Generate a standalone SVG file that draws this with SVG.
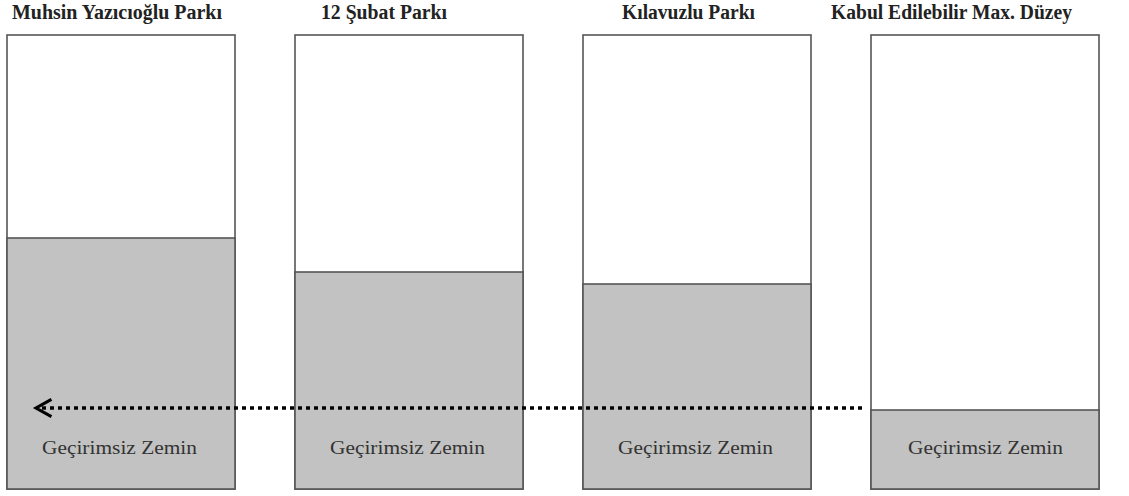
<svg xmlns="http://www.w3.org/2000/svg" width="1129" height="496" viewBox="0 0 1129 496">
<style>
.title{font-family:"Liberation Serif","Times New Roman",serif;font-weight:bold;font-size:20px;fill:#222}
.lbl{font-family:"Liberation Serif","Times New Roman",serif;font-size:19px;fill:#333}
.box{fill:#fff;stroke:#555;stroke-width:1.6}
.fill{fill:#c2c2c2;stroke:#555;stroke-width:1.6}
</style>
<defs>
<marker id="chev" markerWidth="20" markerHeight="22" refX="0" refY="0" orient="auto" markerUnits="userSpaceOnUse" viewBox="-20 -11 22 22" overflow="visible">
<path d="M-17,-9.5 L0,0 L-17,9.5" fill="none" stroke="#000" stroke-width="3.4"/>
</marker>
</defs>
<g id="node-muhsin">
<rect class="box" x="7" y="35" width="228" height="454"/>
<rect class="fill" x="7" y="238" width="228" height="251"/>
<text class="title" x="12" y="19" textLength="210" lengthAdjust="spacingAndGlyphs">Muhsin Yazıcıoğlu Parkı</text>
<text class="lbl" x="42" y="454" textLength="155" lengthAdjust="spacingAndGlyphs">Geçirimsiz Zemin</text>
</g>
<g id="node-12subat">
<rect class="box" x="295" y="35" width="228" height="454"/>
<rect class="fill" x="295" y="272" width="228" height="217"/>
<text class="title" x="321" y="19" textLength="126" lengthAdjust="spacingAndGlyphs">12 Şubat Parkı</text>
<text class="lbl" x="330" y="454" textLength="155" lengthAdjust="spacingAndGlyphs">Geçirimsiz Zemin</text>
</g>
<g id="node-kilavuzlu">
<rect class="box" x="583" y="35" width="228" height="454"/>
<rect class="fill" x="583" y="284" width="228" height="205"/>
<text class="title" x="622" y="19" textLength="133" lengthAdjust="spacingAndGlyphs">Kılavuzlu Parkı</text>
<text class="lbl" x="618" y="454" textLength="155" lengthAdjust="spacingAndGlyphs">Geçirimsiz Zemin</text>
</g>
<g id="node-maxduzey">
<rect class="box" x="871" y="35" width="228" height="454"/>
<rect class="fill" x="871" y="410" width="228" height="79"/>
<text class="title" x="831" y="19" textLength="241" lengthAdjust="spacingAndGlyphs">Kabul Edilebilir Max. Düzey</text>
<text class="lbl" x="908" y="454" textLength="155" lengthAdjust="spacingAndGlyphs">Geçirimsiz Zemin</text>
</g>
<g id="connectors">
<line x1="862" y1="408" x2="36" y2="408" stroke="#000" stroke-width="3.5" stroke-dasharray="4 4" marker-end="url(#chev)"/>
</g>
</svg>
